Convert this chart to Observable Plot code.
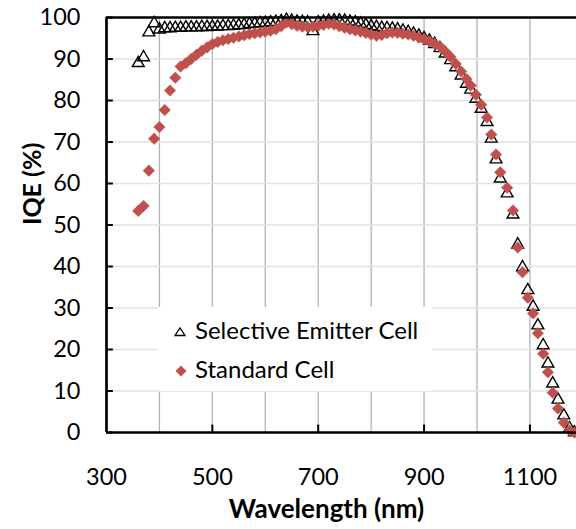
<!DOCTYPE html>
<html><head><meta charset="utf-8">
<script src="https://cdn.jsdelivr.net/npm/d3@7"></script>
<script src="https://cdn.jsdelivr.net/npm/@observablehq/plot@0.6"></script>
<style>
body{margin:0;background:#fff;}
#wrap{position:relative;width:576px;height:529px;overflow:hidden;font-family:Lato,"Open Sans",sans-serif;}
#legend{position:absolute;left:158px;top:307px;width:274px;height:84px;background:#fff;}
#legend text{font-family:Lato,"Open Sans",sans-serif;font-size:24px;fill:#000;}
</style></head><body><div id="wrap"></div>
<script>
const wavelengths = [360,370,380,390,400,410,420,430,440,450,460,470,480,490,500,510,520,530,540,550,560,570,580,590,600,610,620,630,640,650,660,670,680,690,700,710,720,730,740,750,760,770,780,790,800,810,820,830,840,850,860,870,880,890,900,910,920,930,940,950,960,970,980,988,998,1008,1019,1027,1036,1044,1057,1068,1077,1086,1096,1106,1115,1125,1134,1143,1153,1164,1175,1184];
const standardCell = [53.4,54.6,63.1,70.8,73.6,77.7,82.4,85.5,88.2,89.0,90.0,91.0,92.0,92.8,93.6,94.1,94.5,94.8,95.1,95.4,95.7,96.0,96.2,96.4,96.6,96.8,97.2,97.9,98.8,98.4,98.0,97.8,97.7,97.8,98.0,98.2,98.5,98.3,97.9,97.5,97.2,96.9,96.6,96.3,95.9,95.6,95.8,96.2,96.4,96.3,96.1,95.9,95.6,95.2,94.8,94.3,93.7,93.0,91.8,90.5,88.8,87.0,85.2,83.6,81.4,79.0,75.9,71.8,67.0,62.7,59.0,53.5,44.6,38.6,32.5,28.7,23.9,19.0,14.5,9.6,5.8,2.4,0.5,0];
const selectiveEmitter = [89.0,90.4,96.4,98.6,97.1,97.4,97.4,97.5,97.5,97.6,97.6,97.6,97.7,97.7,97.8,97.8,97.9,97.9,98.0,98.1,98.2,98.4,98.5,98.6,98.7,98.8,98.9,99.1,99.4,99.2,99.0,98.9,98.8,96.7,98.8,99.0,99.2,99.3,99.3,99.2,99.0,98.8,98.5,98.2,97.9,97.7,97.5,97.4,97.3,97.1,96.8,96.5,96.1,95.6,95.0,94.4,93.6,92.6,91.3,89.7,88.0,86.0,84.0,82.6,80.4,78.0,74.8,70.8,65.8,61.2,57.6,52.5,45.3,39.8,34.3,30.3,25.8,21.0,16.6,11.8,7.9,4.1,1.0,0];
const seriesNames = ["Selective Emitter Cell", "Standard Cell"];
const xTickLabels = [300,500,700,900,1100];
const xGridLines = [400,500,600,700,800,900,1000,1100];
const yTicks = [0,10,20,30,40,50,60,70,80,90,100];
const xTitle = "Wavelength (nm)";
const yTitle = "IQE (%)";

const seData = wavelengths.map((w,i)=>({w, v: selectiveEmitter[i]}));
const stdData = wavelengths.map((w,i)=>({w, v: standardCell[i]}));
const red = "#c0504d";

const chart = Plot.plot({
  width:576, height:529, marginLeft:106, marginRight:0, marginTop:17, marginBottom:97,
  style:{fontFamily:"Lato, 'Open Sans', sans-serif", background:"white", color:"black"},
  x:{domain:[300,1188]}, y:{domain:[0,100]},
  marks:[
    Plot.ruleX(xGridLines,{stroke:"#b4b4b4", strokeWidth:1.3}),
    Plot.ruleY(yTicks.filter(d=>d>0&&d<100),{stroke:"#e2e2e2", strokeWidth:1.6}),
    Plot.ruleY(yTicks,{x1:300,x2:313,stroke:"black",strokeWidth:2}),
    Plot.ruleX(xTickLabels.slice(1),{y1:0,y2:1.8,stroke:"black",strokeWidth:2}),
    Plot.axisX({ticks:xTickLabels, tickFormat:d=>String(d), tickSize:0, tickPadding:36, fontSize:23.5, label:null}),
    Plot.axisY({ticks:yTicks, tickFormat:d=>String(d), tickSize:0, tickPadding:26, fontSize:23.5, label:null}),
    Plot.dot(seData,{x:"w",y:"v",symbol:"triangle",r:4.4,fill:"none",stroke:"black",strokeWidth:1.4}),
    Plot.dot(stdData,{x:"w",y:"v",symbol:"diamond2",r:5.2,fill:red,stroke:red,strokeWidth:0.5}),
    Plot.ruleX([300],{stroke:"black",strokeWidth:2.7}),
    Plot.ruleY([0,100],{stroke:"black",strokeWidth:2.7}),
    Plot.text([xTitle],{text:d=>d, frameAnchor:"bottom", dx:-15, dy:85, fontWeight:"bold", fontSize:26}),
    Plot.text([yTitle],{text:d=>d, frameAnchor:"left", dx:-74, rotate:-90, fontWeight:"bold", fontSize:25})
  ]
});
const wrap = document.getElementById("wrap");
wrap.appendChild(chart);

const legend = document.createElement("div");
legend.id = "legend";
legend.innerHTML = `<svg width="274" height="84">
  <path d="M17,28.5 L27,28.5 L22,21 Z" fill="none" stroke="black" stroke-width="1.3"/>
  <text x="37" y="32">${seriesNames[0]}</text>
  <path d="M23,58.5 L28.5,64 L23,69.5 L17.5,64 Z" fill="${red}"/>
  <text x="37" y="71">${seriesNames[1]}</text>
</svg>`;
wrap.appendChild(legend);
</script></body></html>
